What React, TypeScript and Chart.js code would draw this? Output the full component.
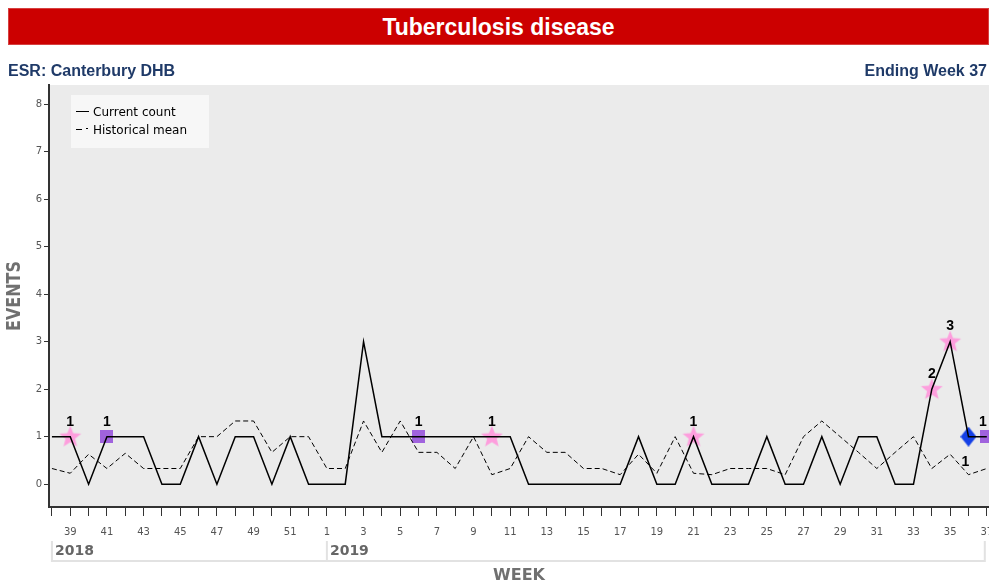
import React, { useEffect, useRef } from 'react';
import { Chart, registerables } from 'chart.js';
Chart.register(...registerables);

const weekLabels = ['38','39','40','41','42','43','44','45','46','47','48','49','50','51','52',
  '1','2','3','4','5','6','7','8','9','10','11','12','13','14','15','16','17','18','19','20',
  '21','22','23','24','25','26','27','28','29','30','31','32','33','34','35','36','37'];
const yearLabels = ['2018', '2019'];
const yearStartWeeks = ['38', '1'];
const currentCount = [1,1,0,1,1,1,0,0,1,0,1,1,0,1,0,
  0,0,3,1,1,1,1,1,1,1,1,0,0,0,0,0,0,1,0,0,
  1,0,0,0,1,0,0,1,0,1,1,0,0,2,3,1,1];
const historicalMean = [0.33,0.23,0.63,0.33,0.65,0.33,0.33,0.33,1.0,1.0,1.33,1.33,0.67,1.0,1.0,
  0.33,0.33,1.33,0.67,1.33,0.67,0.67,0.33,1.0,0.2,0.33,1.0,0.67,0.67,0.33,0.33,0.2,0.63,0.23,1.0,
  0.23,0.2,0.33,0.33,0.33,0.2,1.0,1.33,1.0,0.67,0.33,0.67,1.0,0.33,0.63,0.2,0.33];
const starWeeks = ['39','10','21','34','35'];
const squareWeeks = ['41','6','37'];
const diamondWeeks = ['36'];
const yTicks = [0,1,2,3,4,5,6,7,8];
const seriesNames = ['Current count', 'Historical mean'];

function makeStar(): HTMLCanvasElement {
  const c = document.createElement('canvas');
  c.width = 24; c.height = 24;
  const g = c.getContext('2d')!;
  g.beginPath();
  for (let i = 0; i < 10; i++) {
    const r = i % 2 === 0 ? 11.5 : 5;
    const a = -Math.PI / 2 + (i * Math.PI) / 5;
    const px = 12 + r * Math.cos(a), py = 12.5 + r * Math.sin(a);
    if (i === 0) g.moveTo(px, py); else g.lineTo(px, py);
  }
  g.closePath();
  g.fillStyle = 'rgba(255,150,220,0.9)';
  g.fill();
  return c;
}
function makeSquare(): HTMLCanvasElement {
  const c = document.createElement('canvas');
  c.width = 13; c.height = 13;
  const g = c.getContext('2d')!;
  g.fillStyle = '#a063dd';
  g.fillRect(0, 0, 13, 13);
  return c;
}
function makeDiamond(): HTMLCanvasElement {
  const c = document.createElement('canvas');
  c.width = 16; c.height = 20;
  const g = c.getContext('2d')!;
  g.beginPath();
  g.moveTo(8, 0); g.lineTo(16, 10); g.lineTo(8, 20); g.lineTo(0, 10); g.closePath();
  g.fillStyle = '#1440e6';
  g.fill();
  return c;
}

const idxOf = (w: string) => weekLabels.indexOf(w);

export default function App() {
  const ref = useRef<HTMLCanvasElement | null>(null);
  useEffect(() => {
    if (!ref.current) return;
    const star = makeStar(), square = makeSquare(), diamond = makeDiamond();
    const pts = (arr: number[]) => arr.map((v, i) => ({ x: i, y: v }));
    const markerPts = (weeks: string[]) => weeks.map(w => ({ x: idxOf(w), y: currentCount[idxOf(w)] }));

    const bgPlugin = {
      id: 'bg',
      beforeDraw(chart: any) {
        const { ctx, chartArea: a } = chart;
        ctx.save();
        ctx.fillStyle = '#ebebeb';
        ctx.fillRect(a.left, a.top, a.right - a.left, a.bottom - a.top);
        ctx.restore();
      },
    };
    const decoPlugin = {
      id: 'deco',
      afterDraw(chart: any) {
        const { ctx } = chart;
        const xs = chart.scales.x, ys = chart.scales.y;
        ctx.save();
        // x tick labels (odd weeks)
        ctx.fillStyle = '#555';
        ctx.font = '10px "DejaVu Sans"';
        ctx.textAlign = 'center'; ctx.textBaseline = 'middle';
        weekLabels.forEach((w, i) => {
          if (Number(w) % 2 === 1) ctx.fillText(w, xs.getPixelForValue(i), 532);
        });
        // legend
        ctx.fillStyle = '#f7f7f7';
        ctx.fillRect(71, 95, 138, 53);
        ctx.strokeStyle = '#000'; ctx.lineWidth = 1;
        ctx.beginPath(); ctx.moveTo(76, 111.5); ctx.lineTo(89, 111.5); ctx.stroke();
        ctx.beginPath(); ctx.moveTo(76, 129.5); ctx.lineTo(82, 129.5); ctx.moveTo(86, 128.5); ctx.lineTo(88, 128.5); ctx.stroke();
        ctx.fillStyle = '#000';
        ctx.font = '12px "DejaVu Sans"';
        ctx.textAlign = 'left'; ctx.textBaseline = 'middle';
        ctx.fillText(seriesNames[0], 93, 113);
        ctx.fillText(seriesNames[1], 93, 131);
        // year bracket
        ctx.strokeStyle = '#e2e2e2'; ctx.lineWidth = 2;
        const x0 = xs.getPixelForValue(0), xEnd = xs.getPixelForValue(weekLabels.length - 1) - 2;
        ctx.beginPath();
        ctx.moveTo(x0, 541); ctx.lineTo(x0, 561); ctx.lineTo(xEnd, 561); ctx.lineTo(xEnd, 541);
        yearStartWeeks.forEach((w) => {
          const px = xs.getPixelForValue(idxOf(w));
          ctx.moveTo(px, 541); ctx.lineTo(px, 561);
        });
        ctx.stroke();
        ctx.fillStyle = '#666';
        ctx.font = 'bold 14px "DejaVu Sans"';
        ctx.textBaseline = 'middle';
        yearStartWeeks.forEach((w, i) => {
          const px = xs.getPixelForValue(idxOf(w));
          ctx.fillText(yearLabels[i], px + 3, 551);
        });
        // axis titles
        ctx.fillStyle = '#707070';
        ctx.font = 'bold 16px "DejaVu Sans"';
        ctx.textAlign = 'center';
        ctx.fillText('WEEK', 519, 576);
        ctx.save();
        ctx.translate(15, 296);
        ctx.rotate(-Math.PI / 2);
        ctx.scale(1, 1.2);
        ctx.fillText('EVENTS', 0, 0);
        ctx.restore();
        // data labels
        ctx.fillStyle = '#000';
        ctx.font = 'bold 14px "Liberation Sans"';
        ctx.textAlign = 'center';
        [...starWeeks, ...squareWeeks].forEach((w) => {
          const i = idxOf(w);
          const px = Math.min(xs.getPixelForValue(i), 983);
          ctx.fillText(String(currentCount[i]), px, ys.getPixelForValue(currentCount[i]) - 15);
        });
        diamondWeeks.forEach((w) => {
          const i = idxOf(w);
          ctx.fillText(String(currentCount[i]), xs.getPixelForValue(i) - 3, ys.getPixelForValue(currentCount[i]) + 25);
        });
        ctx.restore();
      },
    };

    const chart = new Chart(ref.current, {
      type: 'scatter',
      data: {
        datasets: [
          { label: seriesNames[1], data: pts(historicalMean), showLine: true, borderColor: '#000', borderWidth: 1, borderDash: [5, 3], pointRadius: 0, fill: false },
          { label: seriesNames[0], data: pts(currentCount), showLine: true, borderColor: '#000', borderWidth: 1.5, pointRadius: 0, fill: false },
          { label: 'star', data: markerPts(starWeeks), showLine: false, pointStyle: star as any, pointRadius: 12 },
          { label: 'square', data: markerPts(squareWeeks), showLine: false, pointStyle: square as any, pointRadius: 7 },
          { label: 'diamond', data: markerPts(diamondWeeks), showLine: false, pointStyle: diamond as any, pointRadius: 10 },
        ],
      },
      options: {
        responsive: false,
        animation: false,
        events: [],
        layout: { autoPadding: false, padding: { top: 85, left: 0, right: 0, bottom: 0 } },
        plugins: { legend: { display: false }, tooltip: { enabled: false } },
        scales: {
          x: {
            type: 'linear',
            min: -0.16,
            max: 51.12,
            afterBuildTicks: (s: any) => { s.ticks = weekLabels.map((_, i) => ({ value: i })); },
            afterFit: (s: any) => { s.height = 80; s.paddingLeft = 0; s.paddingRight = 0; },
            ticks: { display: false },
            grid: { drawOnChartArea: false, drawTicks: true, tickLength: 9, color: '#333', lineWidth: 1 },
            border: { color: '#333', width: 2 },
          },
          y: {
            type: 'linear',
            min: -0.48,
            max: 8.4,
            afterBuildTicks: (s: any) => { s.ticks = yTicks.map(v => ({ value: v })); },
            afterFit: (s: any) => { s.width = 49; },
            ticks: { padding: 2, color: '#555', font: { family: 'DejaVu Sans', size: 10 } },
            grid: { drawOnChartArea: false, drawTicks: true, tickLength: 5, color: '#333', lineWidth: 1 },
            border: { color: '#333', width: 2 },
          },
        },
      },
      plugins: [bgPlugin, decoPlugin],
    } as any);
    return () => chart.destroy();
  }, []);

  const subFont = 'bold 16px "Liberation Sans", Arial, sans-serif';
  return (
    <div style={{ position: 'fixed', left: 0, top: 0, width: 989, height: 587, background: '#fff', overflow: 'hidden' }}>
      <canvas ref={ref} width={989} height={587} style={{ position: 'absolute', left: 0, top: 0 }} />
      <div style={{ position: 'absolute', left: 8, top: 8, width: 981, height: 37, background: '#cc0000', color: '#fff', font: 'bold 23px "Liberation Sans", Arial, sans-serif', lineHeight: '36px', textAlign: 'center', boxSizing: 'border-box', border: '1px solid #d64040' }}>
        Tuberculosis disease
      </div>
      <div style={{ position: 'absolute', left: 8, top: 61, color: '#1f3a68', font: subFont, lineHeight: '20px' }}>
        ESR: Canterbury DHB
      </div>
      <div style={{ position: 'absolute', right: 2, top: 61, color: '#1f3a68', font: subFont, lineHeight: '20px' }}>
        Ending Week 37
      </div>
    </div>
  );
}
